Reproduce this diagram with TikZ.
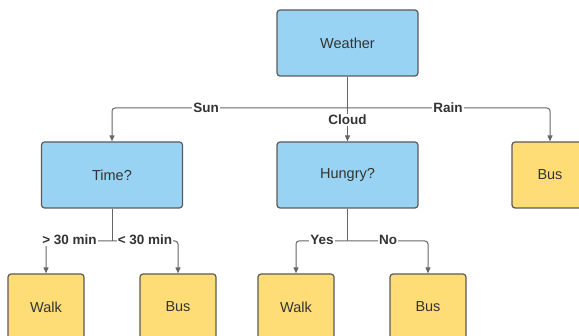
\documentclass[tikz,border=0pt]{standalone}
\usepackage{fontspec}
\setmainfont{Liberation Sans}
\usetikzlibrary{arrows.meta}
\definecolor{bluefill}{HTML}{99D3F3}
\definecolor{yellowfill}{HTML}{FFDD76}
\definecolor{boxline}{HTML}{5A5A5A}
\definecolor{connline}{HTML}{666666}
\definecolor{txt}{HTML}{333333}
\tikzset{
  box/.style={draw=boxline, line width=1.2pt, rounded corners=3pt, inner sep=0pt,
    text=txt, font=\fontsize{14.5}{16}\selectfont},
  question/.style={box, fill=bluefill, minimum width=141pt, minimum height=66pt},
  answer/.style={box, fill=yellowfill, minimum width=76pt, minimum height=66pt},
  conn/.style={draw=connline, line width=1pt, rounded corners=3pt,
    -{Triangle[length=6pt,width=5pt]}},
  plain/.style={draw=connline, line width=1pt, rounded corners=3pt},
  lbl/.style={fill=white, inner sep=1pt, text=txt, font=\bfseries\fontsize{13.5}{15}\selectfont}
}
\begin{document}
\begin{tikzpicture}[x=1pt,y=-1pt]
\useasboundingbox (0,0) rectangle (579,336);
% decision boxes
\node[question] (weather) at (347.5,43) {Weather};
\node[question] (time) at (112,175) {Time?};
\node[question] (hungry) at (347.5,175) {Hungry?};
% outcome boxes
\node[answer] (busr) at (550,175) {Bus};
\node[answer] (walk1) at (46,307) {Walk};
\node[answer] (bus1) at (178,307) {Bus};
\node[answer] (walk2) at (296,307) {Walk};
\node[answer] (bus2) at (428,307) {Bus};
% branch points
\coordinate (wj) at (347.5,108);
\coordinate (tj) at (112,241);
\coordinate (hj) at (347.5,241);
% weather branches
\draw[plain] (weather.south) -- (wj);
\draw[conn] (wj) -| (time.north);
\draw[conn] (wj) -| (busr.north);
\draw[conn] (wj) -- (hungry.north);
\node[lbl] at (206,108) {Sun};
\node[lbl] at (448,108) {Rain};
\node[lbl] at (347.5,120) {Cloud};
% time branches
\draw[plain] (time.south) -- (tj);
\draw[conn] (tj) -| (walk1.north);
\draw[conn] (tj) -| (bus1.north);
\node[lbl] at (69.5,240) {> 30 min};
\node[lbl] at (145,240) {< 30 min};
% hungry branches
\draw[plain] (hungry.south) -- (hj);
\draw[conn] (hj) -| (walk2.north);
\draw[conn] (hj) -| (bus2.north);
\node[lbl] at (322,240) {Yes};
\node[lbl] at (388,240) {No};
\end{tikzpicture}
\end{document}
